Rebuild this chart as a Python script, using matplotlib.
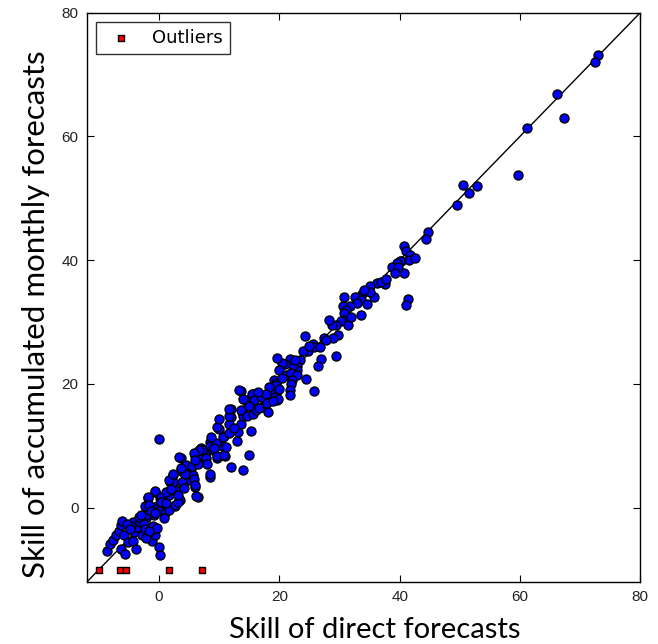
import matplotlib
matplotlib.use("Agg")
import matplotlib.pyplot as plt
import numpy as np

# Blue points: skill of direct forecasts (x) vs accumulated monthly forecasts (y)
direct_x = [
    72.9, 72.4, 66.1, 67.4, 61.1, 59.6, 50.6, 52.8, 51.6, 49.5, 44.7, 44.4,
    40.7, 41.0, 41.7, 41.5, 42.5, 40.3, 40.7, 41.4, 41.0, 40.0, 39.5, 38.8,
    39.7, 39.2, 37.5, 36.2, 35.0, 35.7, 35.0, 33.8, 33.2, 32.5, 30.8, 33.6,
    32.9, 34.6, 31.8, 30.6, 31.0, 33.5, 30.8, 30.6, 30.3, 31.4, 29.4, 28.8,
    29.7, 28.9, 27.4, 24.2, 25.6, 25.8, 26.7, 24.7, 23.9, 29.4, 26.9, 26.5,
    23.5, 23.0, 22.9, 22.3, 21.8, 21.0, 20.4, 19.6, 19.9, 21.1, 21.9, 23.0,
    24.4, 25.8, 22.1, 21.9, 21.7, 21.7, 19.6, 19.1, 19.4, 18.6, 17.2, 18.8,
    19.6, 17.7, 13.7, 15.6, 14.7, 13.8, 11.9, 11.9,
    0.0, 3.6, 9.9, 10.8, 8.5, 6.9, 7.7, 10.5, 11.0, 9.6, 7.1, 6.0, 8.5, 6.4,
    6.0, 4.6, 3.8, 5.2, 3.8, 2.4, 1.8, 2.1, 2.7, 4.1, 1.0, 0.2, -0.7, -1.8,
    1.3, 2.7, 3.5, -0.4, -2.3, -0.9, -2.1,
    -8.7, -8.1, -7.6, -7.1, -6.7, -6.3, -6.1, -5.8, -5.1, -6.3, -5.7, -4.4,
    -3.9, -4.4, -4.2, -3.6, -3.1, -2.7, -2.2, -1.7, -1.2, -0.7, 0.0, 0.2,
    -1.9, -2.8, -2.2, -1.4, -0.7, -0.7, -1.9, -1.7, -1.4, 0.3, 0.4, 0.0, 1.0,
    1.6, 1.1, 1.7, 2.6, 3.2, 1.9, 3.2, 2.3, 1.7, 2.4, 3.6, 4.2, 5.0, 5.6, 5.8,
    6.0, 6.1, 5.0, 6.7, 7.8, 8.4, 7.2, 8.4, 8.9, 9.7, 9.4, 10.8, 11.9, 14.0,
    9.7, 10.6, 11.7, 11.7, 11.7, 11.7, 12.9, 13.3, 13.1, 13.7, 13.9, 13.6,
    14.4, 15.3, 15.0, 14.7, 15.6, 15.4, 15.8, 16.1, 16.9, 17.2, 18.1, 18.6,
    19.2, 19.4, 20.0, 19.7, 18.3, 17.8, 16.4, 13.9, 10.0, 11.1, 8.6, 6.7, 5.8,
    3.3, 4.4, 0.8, -4.7, -3.3, -2.5, -5.3, -4.9, -1.0, -0.3, -3.0, -2.4,
    -0.6, -1.6, 1.2, 2.0, 5.4, 4.3, 3.7, 6.4, 5.9, 8.0, 9.1, 12.4, 14.9,
    16.7, 17.9, 18.9, 20.5, 22.6, 24.9, 27.8, 28.2, 31.9, 34.1, 36.9, 37.8,
]
accum_y = [
    73.2, 72.1, 66.9, 63.0, 61.3, 53.8, 52.2, 52.0, 50.9, 49.0, 44.5, 43.4,
    42.3, 41.5, 40.8, 40.1, 40.4, 39.8, 37.9, 33.8, 32.8, 39.9, 39.5, 38.9,
    38.9, 38.0, 36.2, 36.3, 35.9, 34.1, 34.8, 34.5, 34.0, 34.1, 34.1, 33.5,
    33.1, 32.9, 32.6, 32.6, 31.9, 31.1, 31.4, 30.4, 30.1, 29.6, 29.6, 29.6,
    27.9, 27.5, 27.4, 27.8, 26.5, 26.0, 25.9, 25.4, 25.3, 24.5, 24.0, 22.9,
    23.9, 22.9, 22.3, 23.0, 24.0, 23.3, 23.4, 24.2, 22.3, 21.5, 21.7, 21.5,
    20.8, 18.9, 20.6, 20.0, 19.1, 18.2, 18.9, 20.6, 20.2, 19.0, 18.0, 17.4,
    17.4, 17.1, 18.9, 18.3, 17.1, 15.5, 16.0, 14.7,
    11.1, 8.0, 12.8, 11.6, 10.7, 9.6, 9.1, 9.9, 8.3, 8.0, 7.5, 8.3, 5.0, 1.7,
    3.4, 6.1, 5.9, 4.5, 4.2, 5.3, 4.2, 3.7, 2.9, 3.2, 1.8, 1.6, 2.5, 1.6,
    0.2, 0.2, 1.3, 0.2, 0.2, -1.1, -1.7,
    -7.0, -5.9, -5.2, -4.4, -3.8, -2.8, -2.1, -4.4, -5.5, -6.6, -7.5, -5.4,
    -6.7, -2.3, -3.9, -3.1, -2.3, -1.7, -1.2, -4.4, -5.4, -4.4, -6.3, -7.6,
    -4.1, -4.4, -4.9, -3.6, -0.2, 2.7, 1.8, 0.4, -0.6, 1.8, 1.0, -0.6, -0.9,
    -0.3, 0.7, 2.0, 0.4, 1.0, 2.8, 2.0, 4.1, 4.5, 5.5, 6.1, 5.6, 5.4, 5.3, 4.7,
    3.7, 1.9, 6.6, 8.5, 8.1, 5.4, 9.3, 10.0, 9.3, 8.4, 10.4, 8.5, 6.6, 6.1,
    13.1, 11.5, 12.0, 13.6, 14.8, 15.9, 10.8, 19.0, 12.3, 13.6, 14.9, 15.8,
    17.4, 12.4, 8.5, 14.9, 15.2, 18.4, 17.4, 15.8, 17.9, 16.3, 15.5, 17.4,
    17.9, 19.8, 19.2, 17.6, 19.5, 18.4, 18.7, 17.6, 14.4, 9.8, 11.5, 9.3, 8.8,
    8.2, 6.9, -1.7, -3.0, -1.5, -2.6, -2.6, -3.4, -2.9, -3.2, -1.1, -3.5,
    -0.9, -3.8, 2.6, 3.1, 6.7, 5.4, 6.5, 7.1, 7.7, 7.1, 9.7, 12.9, 16.4,
    16.1, 16.9, 17.2, 21.0, 23.8, 26.2, 27.1, 30.4, 30.9, 35.2, 36.4, 37.0,
]

# Outliers (red squares)
outlier_x = [-10.0, -6.5, -5.5, 1.7, 7.2]
outlier_y = [-10.0, -10.0, -10.0, -10.0, -10.0]

axis_lim = [-12, 80]
ticks = [0, 20, 40, 60, 80]

fig = plt.figure(figsize=(6.58, 6.44), dpi=100)
ax = fig.add_axes([0.132, 0.0963, 0.841, 0.884])

ax.plot(axis_lim, axis_lim, color="black", linewidth=1.0, zorder=1)
ax.scatter(direct_x, accum_y, s=42, c="blue", edgecolors="black",
           linewidths=1.0, zorder=2)
ax.scatter(outlier_x, outlier_y, s=18, marker="s", c="red",
           edgecolors="black", linewidths=1.0, zorder=3, label="Outliers")

ax.set_xlim(axis_lim)
ax.set_ylim(axis_lim)
ax.set_xticks(ticks)
ax.set_yticks(ticks)
ax.tick_params(direction="in", top=True, right=True, length=5, width=0.8,
               labelsize=11, pad=6)
for lab in ax.get_xticklabels() + ax.get_yticklabels():
    lab.set_fontfamily("Liberation Sans")
    lab.set_color("#222222")
for sp in ax.spines.values():
    sp.set_linewidth(1.0)

leg = ax.legend(loc="upper left", scatterpoints=1, fancybox=False,
                prop={"family": "DejaVu Sans", "size": 13},
                borderpad=0.4, handletextpad=0.7, borderaxespad=0.5)
leg.get_frame().set_edgecolor("black")
leg.get_frame().set_linewidth(1.0)

ax.set_xlabel("Skill of direct forecasts", family="Lato", fontsize=21)
ax.set_ylabel("Skill of accumulated monthly forecasts", family="Lato",
              fontsize=22.5)
ax.xaxis.set_label_coords(0.521, -0.062, transform=ax.transAxes)
ax.yaxis.set_label_coords(-0.067, 0.471, transform=ax.transAxes)

fig.savefig("out.png", dpi=100)
